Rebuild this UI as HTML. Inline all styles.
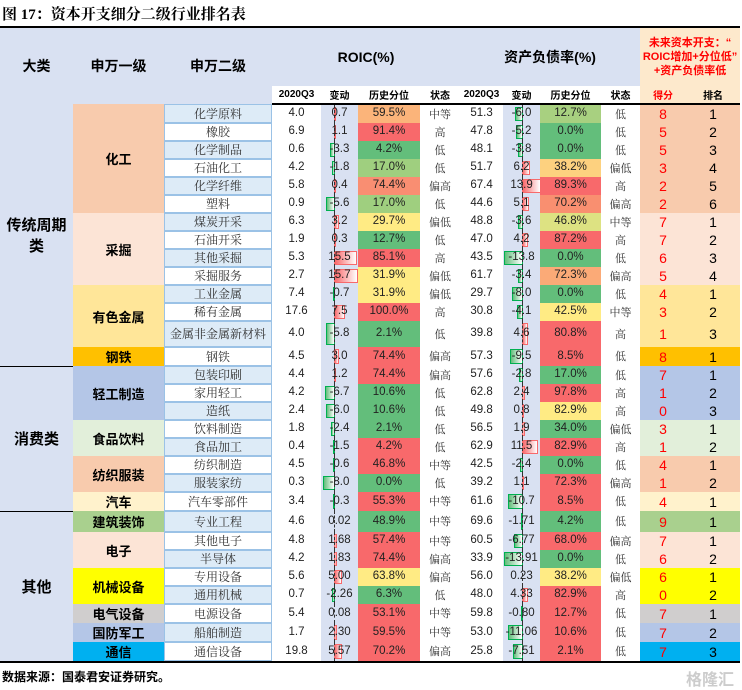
<!DOCTYPE html>
<html><head><meta charset="utf-8">
<style>
html,body{margin:0;padding:0;background:#fff;}
body{width:742px;height:689px;overflow:hidden;position:relative;font-family:"Liberation Sans","Noto Serif CJK SC",serif;}
.title{position:absolute;left:2px;top:3px;font:bold 15px "Liberation Serif","Noto Serif CJK SC",serif;color:#000;}
table{position:absolute;left:0;top:26px;border-collapse:collapse;table-layout:fixed;width:740px;border-top:2px solid #000;border-bottom:2px solid #000;}
td{padding:0;text-align:center;font-size:11.5px;white-space:nowrap;color:#222;line-height:1;overflow:visible;}
.hd{background:#d9e1f2;font:bold 14px "Liberation Sans","Noto Sans CJK SC",sans-serif;color:#000;}
.hr{background:#fde9cc;font:bold 11px "Liberation Sans","Noto Sans CJK SC",sans-serif;color:#f00;line-height:1.3;}
.sh td{height:14px;font:bold 10px "Liberation Sans","Noto Sans CJK SC",sans-serif;color:#000;background:#fff;}
.sh td.sr{background:#fde9cc;}
.sh td{border-bottom:2px solid #000;}
.dl{background:#d9e1f2;font:bold 15px "Liberation Sans","Noto Sans CJK SC",sans-serif;color:#000;}
.bk{border-bottom:1.5px solid #000;}
.g1{font:bold 13px "Liberation Sans","Noto Sans CJK SC",sans-serif;color:#000;}
.e,.w{font-family:"Noto Serif CJK SC",serif;font-size:12px;color:#333;box-shadow:inset 0 0 0 1px #9bc2e6;}
.e{background:#ddebf7}.w{background:#fff}
td.r,td.d{position:relative;background:#d9e1f2;}
td.r::before,td.d::before{content:"";position:absolute;top:0;bottom:0;border-left:1px dashed #333;z-index:2;}
td.r::before{left:13px}td.d::before{left:19px}
td i{position:absolute;top:2px;bottom:2px;box-sizing:border-box;}
i.p{background:linear-gradient(to right,#f8696b,#fff);border:1px solid #f8696b;}
i.n{background:linear-gradient(to right,#63be7b,#fff);border:1px solid #00b050;}
td.r i.p{left:13px}td.r i.n{right:23px}
td.d i.p{left:19px}td.d i.n{right:17px}
td span{position:relative;z-index:3;}
.st{font-family:"Noto Serif CJK SC",serif;font-size:11px;color:#333;}
.sc{color:#f00;font-size:14px;}
.rk{color:#000;font-size:14px;}
.R{background:#f8696b}.G{background:#63be7b}.Y{background:#ffeb84}
tbody tr{height:18px}
tbody td{height:18px;}
.src{position:absolute;left:2px;top:668px;font:bold 12px "Liberation Sans","Noto Sans CJK SC",sans-serif;color:#000;}
.wm{position:absolute;right:8px;top:666px;font:bold 16px "Liberation Sans","Noto Sans CJK SC",sans-serif;color:#ccc;}
</style></head><body>
<div class="title">图 17：资本开支细分二级行业排名表</div>
<table>
<colgroup><col style="width:73px"><col style="width:91px"><col style="width:108px"><col style="width:49px"><col style="width:37px"><col style="width:62px"><col style="width:40px"><col style="width:43px"><col style="width:37px"><col style="width:61px"><col style="width:39px"><col style="width:46px"><col style="width:54px"></colgroup>
<tr style="height:59px"><td class="hd" rowspan="2">大类</td><td class="hd" rowspan="2">申万一级</td><td class="hd" rowspan="2">申万二级</td><td class="hd" colspan="4">ROIC(%)</td><td class="hd" colspan="4">资产负债率(%)</td><td class="hr" colspan="2">未来资本开支：“<br>ROIC增加+分位低”<br>+资产负债率低</td></tr>
<tr class="sh"><td>2020Q3</td><td>变动</td><td>历史分位</td><td>状态</td><td>2020Q3</td><td>变动</td><td>历史分位</td><td>状态</td><td class="sr" style="color:#f00">得分</td><td class="sr">排名</td></tr>
<tbody>
<tr><td class="dl bk" rowspan="14">传统周期<br>类</td><td class="g1" rowspan="6" style="background:#f8cbad">化工</td><td class="e">化学原料</td><td>4.0</td><td class="r"><i class="p" style="width:2px"></i><span>0.7</span></td><td style="background:#fbb47a">59.5%</td><td class="st">中等</td><td>51.3</td><td class="d"><i class="n" style="width:8px"></i><span>-6.0</span></td><td style="background:#a8d080">12.7%</td><td class="st">低</td><td class="sc" style="background:#f8cbad">8</td><td class="rk" style="background:#f8cbad">1</td></tr>
<tr><td class="w">橡胶</td><td>6.9</td><td class="r"><i class="p" style="width:2px"></i><span>1.1</span></td><td class="R">91.4%</td><td class="st">高</td><td>47.8</td><td class="d"><i class="n" style="width:7px"></i><span>-5.2</span></td><td class="G">0.0%</td><td class="st">低</td><td class="sc" style="background:#f8cbad">5</td><td class="rk" style="background:#f8cbad">2</td></tr>
<tr><td class="e">化学制品</td><td>0.6</td><td class="r"><i class="n" style="width:5px"></i><span>-3.3</span></td><td class="G">4.2%</td><td class="st">低</td><td>48.1</td><td class="d"><i class="n" style="width:5px"></i><span>-3.8</span></td><td class="G">0.0%</td><td class="st">低</td><td class="sc" style="background:#f8cbad">5</td><td class="rk" style="background:#f8cbad">3</td></tr>
<tr><td class="w">石油化工</td><td>4.2</td><td class="r"><i class="n" style="width:3px"></i><span>-1.8</span></td><td style="background:#9fcf7f">17.0%</td><td class="st">低</td><td>51.7</td><td class="d"><i class="p" style="width:8px"></i><span>6.2</span></td><td style="background:#fdd17f">38.2%</td><td class="st">偏低</td><td class="sc" style="background:#f8cbad">3</td><td class="rk" style="background:#f8cbad">4</td></tr>
<tr><td class="e">化学纤维</td><td>5.8</td><td class="r"><i class="p" style="width:1px"></i><span>0.4</span></td><td style="background:#f98e72">74.4%</td><td class="st">偏高</td><td>67.4</td><td class="d"><i class="p" style="width:19px"></i><span>13.9</span></td><td class="R">89.3%</td><td class="st">高</td><td class="sc" style="background:#f8cbad">2</td><td class="rk" style="background:#f8cbad">5</td></tr>
<tr><td class="w">塑料</td><td>0.9</td><td class="r"><i class="n" style="width:9px"></i><span>-5.6</span></td><td style="background:#9fcf7f">17.0%</td><td class="st">低</td><td>44.6</td><td class="d"><i class="p" style="width:7px"></i><span>5.1</span></td><td style="background:#f98f70">70.2%</td><td class="st">偏高</td><td class="sc" style="background:#f8cbad">2</td><td class="rk" style="background:#f8cbad">6</td></tr>
<tr><td class="g1" rowspan="4" style="background:#fce4d6">采掘</td><td class="e">煤炭开采</td><td>6.3</td><td class="r"><i class="p" style="width:5px"></i><span>3.2</span></td><td class="Y">29.7%</td><td class="st">偏低</td><td>48.8</td><td class="d"><i class="n" style="width:5px"></i><span>-3.6</span></td><td style="background:#dde282">46.8%</td><td class="st">中等</td><td class="sc" style="background:#fce4d6">7</td><td class="rk" style="background:#fce4d6">1</td></tr>
<tr><td class="w">石油开采</td><td>1.9</td><td class="r"><i class="p" style="width:1px"></i><span>0.3</span></td><td class="G">12.7%</td><td class="st">低</td><td>47.0</td><td class="d"><i class="p" style="width:6px"></i><span>4.2</span></td><td class="R">87.2%</td><td class="st">高</td><td class="sc" style="background:#fce4d6">7</td><td class="rk" style="background:#fce4d6">2</td></tr>
<tr><td class="e">其他采掘</td><td>5.3</td><td class="r"><i class="p" style="width:23px"></i><span>15.5</span></td><td class="R">85.1%</td><td class="st">高</td><td>43.5</td><td class="d"><i class="n" style="width:19px"></i><span>-13.8</span></td><td class="G">0.0%</td><td class="st">低</td><td class="sc" style="background:#fce4d6">6</td><td class="rk" style="background:#fce4d6">3</td></tr>
<tr><td class="w">采掘服务</td><td>2.7</td><td class="r"><i class="p" style="width:24px"></i><span>15.7</span></td><td class="Y">31.9%</td><td class="st">偏低</td><td>61.7</td><td class="d"><i class="n" style="width:5px"></i><span>-3.4</span></td><td style="background:#fbaa77">72.3%</td><td class="st">偏高</td><td class="sc" style="background:#fce4d6">5</td><td class="rk" style="background:#fce4d6">4</td></tr>
<tr><td class="g1" rowspan="3" style="background:#ffe699">有色金属</td><td class="e">工业金属</td><td>7.4</td><td class="r"><i class="n" style="width:2px"></i><span>-0.7</span></td><td class="Y">31.9%</td><td class="st">偏低</td><td>29.7</td><td class="d"><i class="n" style="width:11px"></i><span>-8.0</span></td><td class="G">0.0%</td><td class="st">低</td><td class="sc" style="background:#ffe699">4</td><td class="rk" style="background:#ffe699">1</td></tr>
<tr><td class="w">稀有金属</td><td>17.6</td><td class="r"><i class="p" style="width:11px"></i><span>7.5</span></td><td class="R">100.0%</td><td class="st">高</td><td>30.8</td><td class="d"><i class="n" style="width:6px"></i><span>-4.1</span></td><td class="Y">42.5%</td><td class="st">中等</td><td class="sc" style="background:#ffe699">3</td><td class="rk" style="background:#ffe699">2</td></tr>
<tr style="height:26px"><td class="e" style="height:26px">金属非金属新材料</td><td>4.0</td><td class="r"><i class="n" style="width:9px"></i><span>-5.8</span></td><td class="G">2.1%</td><td class="st">低</td><td>39.8</td><td class="d"><i class="p" style="width:6px"></i><span>4.6</span></td><td class="R">80.8%</td><td class="st">高</td><td class="sc" style="background:#ffe699">1</td><td class="rk" style="background:#ffe699">3</td></tr>
<tr><td class="g1" style="background:#ffc000">钢铁</td><td class="w">钢铁</td><td>4.5</td><td class="r"><i class="p" style="width:5px"></i><span>3.0</span></td><td class="R">74.4%</td><td class="st">偏高</td><td>57.3</td><td class="d"><i class="n" style="width:13px"></i><span>-9.5</span></td><td class="R">8.5%</td><td class="st">低</td><td class="sc" style="background:#ffc000">8</td><td class="rk" style="background:#ffc000">1</td></tr>
<tr><td class="dl bk" rowspan="8">消费类</td><td class="g1" rowspan="3" style="background:#b4c6e7">轻工制造</td><td class="e">包装印刷</td><td>4.4</td><td class="r"><i class="p" style="width:2px"></i><span>1.2</span></td><td class="R">74.4%</td><td class="st">偏高</td><td>57.6</td><td class="d"><i class="n" style="width:4px"></i><span>-2.8</span></td><td class="G">17.0%</td><td class="st">低</td><td class="sc" style="background:#b4c6e7">7</td><td class="rk" style="background:#b4c6e7">1</td></tr>
<tr><td class="w">家用轻工</td><td>4.2</td><td class="r"><i class="n" style="width:10px"></i><span>-6.7</span></td><td class="G">10.6%</td><td class="st">低</td><td>62.8</td><td class="d"><i class="p" style="width:3px"></i><span>2.4</span></td><td class="R">97.8%</td><td class="st">高</td><td class="sc" style="background:#b4c6e7">1</td><td class="rk" style="background:#b4c6e7">2</td></tr>
<tr><td class="e">造纸</td><td>2.4</td><td class="r"><i class="n" style="width:9px"></i><span>-6.0</span></td><td class="G">10.6%</td><td class="st">低</td><td>49.8</td><td class="d"><i class="p" style="width:2px"></i><span>0.8</span></td><td class="Y">82.9%</td><td class="st">高</td><td class="sc" style="background:#b4c6e7">0</td><td class="rk" style="background:#b4c6e7">3</td></tr>
<tr><td class="g1" rowspan="2" style="background:#e2efda">食品饮料</td><td class="w">饮料制造</td><td>1.8</td><td class="r"><i class="n" style="width:4px"></i><span>-2.4</span></td><td class="G">2.1%</td><td class="st">低</td><td>56.5</td><td class="d"><i class="p" style="width:3px"></i><span>1.9</span></td><td class="G">34.0%</td><td class="st">偏低</td><td class="sc" style="background:#e2efda">3</td><td class="rk" style="background:#e2efda">1</td></tr>
<tr><td class="e">食品加工</td><td>0.4</td><td class="r"><i class="n" style="width:2px"></i><span>-1.5</span></td><td class="R">4.2%</td><td class="st">低</td><td>62.9</td><td class="d"><i class="p" style="width:16px"></i><span>11.5</span></td><td class="R">82.9%</td><td class="st">高</td><td class="sc" style="background:#e2efda">1</td><td class="rk" style="background:#e2efda">2</td></tr>
<tr><td class="g1" rowspan="2" style="background:#f8cbad">纺织服装</td><td class="w">纺织制造</td><td>4.5</td><td class="r"><i class="n" style="width:1px"></i><span>-0.6</span></td><td class="R">46.8%</td><td class="st">中等</td><td>42.5</td><td class="d"><i class="n" style="width:3px"></i><span>-2.4</span></td><td class="G">0.0%</td><td class="st">低</td><td class="sc" style="background:#f8cbad">4</td><td class="rk" style="background:#f8cbad">1</td></tr>
<tr><td class="e">服装家纺</td><td>0.3</td><td class="r"><i class="n" style="width:12px"></i><span>-8.0</span></td><td class="G">0.0%</td><td class="st">低</td><td>39.2</td><td class="d"><i class="p" style="width:2px"></i><span>1.1</span></td><td class="R">72.3%</td><td class="st">偏高</td><td class="sc" style="background:#f8cbad">1</td><td class="rk" style="background:#f8cbad">2</td></tr>
<tr><td class="g1" style="background:#fff2cc">汽车</td><td class="w">汽车零部件</td><td>3.4</td><td class="r"><i class="n" style="width:1px"></i><span>-0.3</span></td><td class="R">55.3%</td><td class="st">中等</td><td>61.6</td><td class="d"><i class="n" style="width:15px"></i><span>-10.7</span></td><td class="R">8.5%</td><td class="st">低</td><td class="sc" style="background:#fff2cc">4</td><td class="rk" style="background:#fff2cc">1</td></tr>
<tr style="height:21px"><td class="dl" rowspan="8">其他</td><td class="g1" style="background:#a9d08e">建筑装饰</td><td class="e" style="height:21px">专业工程</td><td>4.6</td><td class="r"><span>0.02</span></td><td class="G">48.9%</td><td class="st">中等</td><td>69.6</td><td class="d"><i class="n" style="width:2px"></i><span>-1.71</span></td><td class="G">4.2%</td><td class="st">低</td><td class="sc" style="background:#a9d08e">9</td><td class="rk" style="background:#a9d08e">1</td></tr>
<tr><td class="g1" rowspan="2" style="background:#fce4d6">电子</td><td class="w">其他电子</td><td>4.8</td><td class="r"><i class="p" style="width:3px"></i><span>1.68</span></td><td class="R">57.4%</td><td class="st">中等</td><td>60.5</td><td class="d"><i class="n" style="width:9px"></i><span>-6.77</span></td><td class="R">68.0%</td><td class="st">偏高</td><td class="sc" style="background:#fce4d6">7</td><td class="rk" style="background:#fce4d6">1</td></tr>
<tr><td class="e">半导体</td><td>4.2</td><td class="r"><i class="p" style="width:3px"></i><span>1.83</span></td><td class="R">74.4%</td><td class="st">偏高</td><td>33.9</td><td class="d"><i class="n" style="width:19px"></i><span>-13.91</span></td><td class="G">0.0%</td><td class="st">低</td><td class="sc" style="background:#fce4d6">6</td><td class="rk" style="background:#fce4d6">2</td></tr>
<tr><td class="g1" rowspan="2" style="background:#ffff00">机械设备</td><td class="w">专用设备</td><td>5.6</td><td class="r"><i class="p" style="width:8px"></i><span>5.00</span></td><td class="Y">63.8%</td><td class="st">偏高</td><td>56.0</td><td class="d"><span>0.23</span></td><td class="Y">38.2%</td><td class="st">偏低</td><td class="sc" style="background:#ffff00">6</td><td class="rk" style="background:#ffff00">1</td></tr>
<tr><td class="e">通用机械</td><td>0.7</td><td class="r"><i class="n" style="width:3px"></i><span>-2.26</span></td><td class="G">6.3%</td><td class="st">低</td><td>48.0</td><td class="d"><i class="p" style="width:6px"></i><span>4.33</span></td><td class="R">82.9%</td><td class="st">高</td><td class="sc" style="background:#ffff00">0</td><td class="rk" style="background:#ffff00">2</td></tr>
<tr><td class="g1" style="background:#d0cece">电气设备</td><td class="w">电源设备</td><td>5.4</td><td class="r"><span>0.08</span></td><td class="R">53.1%</td><td class="st">中等</td><td>59.8</td><td class="d"><i class="n" style="width:1px"></i><span>-0.80</span></td><td class="R">12.7%</td><td class="st">低</td><td class="sc" style="background:#d0cece">7</td><td class="rk" style="background:#d0cece">1</td></tr>
<tr><td class="g1" style="background:#b4c6e7">国防军工</td><td class="e">船舶制造</td><td>1.7</td><td class="r"><i class="p" style="width:3px"></i><span>2.30</span></td><td class="R">59.5%</td><td class="st">中等</td><td>53.0</td><td class="d"><i class="n" style="width:15px"></i><span>-11.06</span></td><td class="R">10.6%</td><td class="st">低</td><td class="sc" style="background:#b4c6e7">7</td><td class="rk" style="background:#b4c6e7">2</td></tr>
<tr><td class="g1" style="background:#00b0f0">通信</td><td class="w">通信设备</td><td>19.8</td><td class="r"><i class="p" style="width:8px"></i><span>5.57</span></td><td class="R">70.2%</td><td class="st">偏高</td><td>25.8</td><td class="d"><i class="n" style="width:10px"></i><span>-7.51</span></td><td class="R">2.1%</td><td class="st">低</td><td class="sc" style="background:#00b0f0">7</td><td class="rk" style="background:#00b0f0">3</td></tr>
</tbody>
</table>
<div class="src">数据来源：国泰君安证券研究。</div>
<div class="wm">格隆汇</div>
</body></html>
